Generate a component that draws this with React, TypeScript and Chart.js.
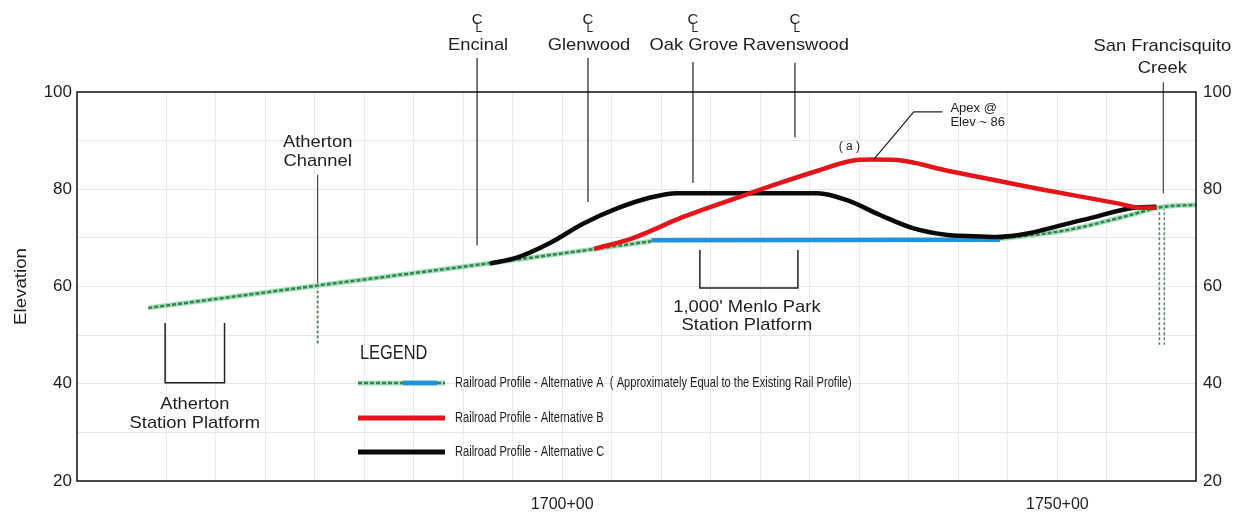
import { useEffect, useRef } from 'react';
import { Chart, registerables } from 'chart.js';

Chart.register(...registerables);

// ---------- axis ----------
const stationMin = 1651;
const stationMax = 1764;
const elevationMin = 20;
const elevationMax = 100;
const stationLabelValues = [1700, 1750];
const stationLabelTexts = ['1700+00', '1750+00'];
const elevationLabelValues = [20, 40, 60, 80, 100];

// ---------- profiles (station in 100 ft, elevation in ft) ----------
const existingX = [1658.2, 1675.3, 1692.7, 1709.0, 1726.0, 1744.2, 1751.0, 1757.0, 1760.4, 1764.0];
const existingY = [55.6, 60.2, 64.8, 69.3, null, 69.8, 71.6, 74.5, 76.3, 76.8];

const altAX = [1709.0, 1744.2];
const altAY = [69.5, 69.6];

const altBX = [1703.2, 1707.2, 1712.2, 1719.0, 1722.0, 1725.8, 1729.1, 1731.3, 1733.8, 1738.9, 1748.3, 1756.1, 1758.3, 1760.0];
const altBY = [67.7, 70.0, 74.3, 79.2, 81.3, 83.8, 85.8, 86.1, 86.0, 83.8, 80.0, 77.1, 76.2, 76.2];

const altCX = [1692.7, 1695.5, 1698.8, 1702.1, 1705.6, 1708.9, 1711.6, 1725.8, 1728.7, 1732.1, 1735.4, 1738.9, 1740.9, 1743.9, 1752.6, 1757.7, 1760.0];
const altCY = [64.7, 66.0, 69.0, 72.9, 76.1, 78.3, 79.2, 79.2, 77.8, 74.7, 72.0, 70.6, 70.4, 70.2, 73.7, 76.2, 76.4];

// ---------- centerlines of crossings ----------
const clNames = ['Encinal', 'Glenwood', 'Oak Grove', 'Ravenswood'];
const clStations = [1691.4, 1702.6, 1713.2, 1723.5];
const clTop = [107.0, 107.0, 106.2, 106.0];
const clBottom = [68.5, 77.4, 81.3, 90.7];

const channelStation = 1675.3;
const channelTop = 83.0;
const channelBottom = 60.2;
const channelDrainBottom = 48.0;

const creekStation = 1760.7;
const creekTop = 102.0;
const creekBottom = 79.2;
const creekDrainStations = [1760.3, 1760.8];
const creekDrainTop = 76.3;
const creekDrainBottom = 48.0;

// ---------- station platforms ----------
const athertonPlatformX = [1659.9, 1665.9];
const athertonPlatformY = [52.5, 40.2];
const menloPlatformX = [1713.9, 1723.8];
const menloPlatformY = [67.5, 59.7];

// ---------- apex leader ----------
const apexLeaderX = [1731.4, 1735.5, 1738.4];
const apexLeaderY = [86.0, 95.9, 95.9];

// ---------- legend ----------
const legendTitle = 'LEGEND';
const legendTexts = [
  'Railroad Profile - Alternative A  ( Approximately Equal to the Existing Rail Profile)',
  'Railroad Profile - Alternative B',
  'Railroad Profile - Alternative C',
];

const GREEN_BASE = '#9fe2b4';
const GREEN_DASH = '#3f7c55';
const BLUE = '#1f93e0';
const RED = '#e5141b';
const BLACK = '#0a0a0a';
const TEXT = '#1e1e1e';
const FONT = "'Liberation Sans', Arial, sans-serif";

const pts = (xs: number[], ys: (number | null)[]) => xs.map((x, i) => ({ x, y: ys[i] }));

function drawText(
  ctx: CanvasRenderingContext2D,
  s: string,
  x: number,
  y: number,
  size: number,
  align: CanvasTextAlign = 'center',
  sx = 1.08,
) {
  ctx.save();
  ctx.font = `${size}px ${FONT}`;
  ctx.fillStyle = TEXT;
  ctx.textBaseline = 'middle';
  ctx.textAlign = align;
  ctx.translate(x, y);
  ctx.scale(sx, 1);
  ctx.fillText(s, 0, 0);
  ctx.restore();
}

const annotationPlugin = {
  id: 'profileAnnotations',
  afterDatasetsDraw(chart: any) {
    const ctx: CanvasRenderingContext2D = chart.ctx;
    const xs = chart.scales.x;
    const ys = chart.scales.y;
    const px = (v: number) => xs.getPixelForValue(v);
    const py = (v: number) => ys.getPixelForValue(v);
    const area = chart.chartArea;

    // frame
    ctx.save();
    ctx.strokeStyle = '#111';
    ctx.lineWidth = 1.5;
    ctx.strokeRect(area.left, area.top, area.right - area.left, area.bottom - area.top);
    ctx.restore();

    // centerline symbols + names
    clNames.forEach((n, i) => {
      const x = px(clStations[i]);
      drawText(ctx, 'C', x, py(114.9), 15, 'center', 1);
      drawText(ctx, 'L', x - 1.5, py(113.1), 12, 'left', 1);
      drawText(ctx, n, x + 1, py(109.5), 17);
    });

    drawText(ctx, 'San Francisquito', px(creekStation) - 1, py(109.3), 17);
    drawText(ctx, 'Creek', px(creekStation) - 1, py(104.9), 17);

    drawText(ctx, 'Atherton', px(channelStation), py(89.7), 17);
    drawText(ctx, 'Channel', px(channelStation), py(85.8), 17);

    const athC = (athertonPlatformX[0] + athertonPlatformX[1]) / 2;
    drawText(ctx, 'Atherton', px(athC), py(35.8), 17);
    drawText(ctx, 'Station Platform', px(athC), py(31.9), 17);

    const menC = (menloPlatformX[0] + menloPlatformX[1]) / 2 - 0.2;
    drawText(ctx, "1,000' Menlo Park", px(menC), py(55.8), 17);
    drawText(ctx, 'Station Platform', px(menC), py(52.1), 17);

    drawText(ctx, 'Apex @', px(1739.2), py(96.7), 13, 'left', 1);
    drawText(ctx, 'Elev ~ 86', px(1739.2), py(93.8), 13, 'left', 1);
    drawText(ctx, '( a )', px(1729.0), py(88.7), 12, 'center', 1);

    // elevation axis title
    ctx.save();
    ctx.translate(21, (area.top + area.bottom) / 2);
    ctx.rotate(-Math.PI / 2);
    ctx.font = `17px ${FONT}`;
    ctx.fillStyle = TEXT;
    ctx.textAlign = 'center';
    ctx.textBaseline = 'middle';
    ctx.scale(1.1, 1);
    ctx.fillText('Elevation', 0, 0);
    ctx.restore();

    // legend
    const lx0 = 358;
    const lx1 = 445;
    drawText(ctx, legendTitle, 360, 353, 20, 'left', 0.82);
    const rowY = [383, 418, 452];
    ctx.save();
    ctx.lineCap = 'butt';
    ctx.lineWidth = 5;
    ctx.strokeStyle = GREEN_BASE;
    ctx.beginPath();
    ctx.moveTo(lx0, rowY[0]);
    ctx.lineTo(lx1, rowY[0]);
    ctx.stroke();
    ctx.lineWidth = 2.5;
    ctx.strokeStyle = GREEN_DASH;
    ctx.setLineDash([4, 2]);
    ctx.beginPath();
    ctx.moveTo(lx0, rowY[0]);
    ctx.lineTo(403, rowY[0]);
    ctx.moveTo(437, rowY[0]);
    ctx.lineTo(lx1, rowY[0]);
    ctx.stroke();
    ctx.setLineDash([]);
    ctx.lineWidth = 4.5;
    ctx.strokeStyle = BLUE;
    ctx.beginPath();
    ctx.moveTo(403, rowY[0]);
    ctx.lineTo(437, rowY[0]);
    ctx.stroke();
    [RED, BLACK].forEach((c, i) => {
      ctx.lineWidth = 5;
      ctx.strokeStyle = c;
      ctx.beginPath();
      ctx.moveTo(lx0, rowY[i + 1]);
      ctx.lineTo(lx1, rowY[i + 1]);
      ctx.stroke();
    });
    ctx.restore();
    legendTexts.forEach((t, i) => drawText(ctx, t, 455, rowY[i], 15, 'left', 0.74));
  },
};

export default function App() {
  const ref = useRef<HTMLCanvasElement | null>(null);

  useEffect(() => {
    document.body.style.margin = '0';
    if (!ref.current) return;

    const thin = (data: any[], color: string, width = 1.2, dash: number[] = []) => ({
      data,
      borderColor: color,
      borderWidth: width,
      borderDash: dash,
      pointRadius: 0,
      tension: 0,
      clip: false as const,
      order: 6,
    });

    const datasets: any[] = [
      {
        data: pts(altBX, altBY),
        borderColor: RED,
        borderWidth: 4.5,
        pointRadius: 0,
        cubicInterpolationMode: 'monotone',
        order: 1,
      },
      {
        data: pts(altCX, altCY),
        borderColor: BLACK,
        borderWidth: 4.5,
        pointRadius: 0,
        cubicInterpolationMode: 'monotone',
        order: 2,
      },
      {
        data: pts(altAX, altAY),
        borderColor: BLUE,
        borderWidth: 4.5,
        pointRadius: 0,
        order: 3,
      },
      {
        data: pts(existingX, existingY),
        borderColor: GREEN_DASH,
        borderWidth: 2.5,
        borderDash: [4, 2],
        pointRadius: 0,
        spanGaps: false,
        cubicInterpolationMode: 'monotone',
        order: 4,
      },
      {
        data: pts(existingX, existingY),
        borderColor: GREEN_BASE,
        borderWidth: 5,
        pointRadius: 0,
        spanGaps: false,
        cubicInterpolationMode: 'monotone',
        order: 5,
      },
    ];

    clStations.forEach((s, i) => {
      datasets.push(thin(pts([s, s], [clTop[i], clBottom[i]]), '#222'));
    });
    datasets.push(thin(pts([channelStation, channelStation], [channelTop, channelBottom]), '#444'));
    datasets.push(thin(pts([channelStation, channelStation], [channelBottom, channelDrainBottom]), '#5d8a6b', 2, [3, 2]));
    datasets.push(thin(pts([creekStation, creekStation], [creekTop, creekBottom]), '#444'));
    creekDrainStations.forEach((s) => {
      datasets.push(thin(pts([s, s], [creekDrainTop, creekDrainBottom]), '#5d8a6b', 1.6, [3, 2]));
    });
    datasets.push(
      thin(
        pts(
          [athertonPlatformX[0], athertonPlatformX[0], athertonPlatformX[1], athertonPlatformX[1]],
          [athertonPlatformY[0], athertonPlatformY[1], athertonPlatformY[1], athertonPlatformY[0]],
        ),
        '#222',
        1.5,
      ),
    );
    datasets.push(
      thin(
        pts(
          [menloPlatformX[0], menloPlatformX[0], menloPlatformX[1], menloPlatformX[1]],
          [menloPlatformY[0], menloPlatformY[1], menloPlatformY[1], menloPlatformY[0]],
        ),
        '#222',
        1.5,
      ),
    );
    datasets.push({ ...thin(pts(apexLeaderX, apexLeaderY), '#222', 1.3), order: 0 });

    const chart = new Chart(ref.current, {
      type: 'line',
      data: { datasets },
      plugins: [annotationPlugin],
      options: {
        responsive: false,
        animation: false,
        devicePixelRatio: 1,
        layout: { padding: { top: 92, left: 0, right: 0, bottom: 0 } },
        plugins: { legend: { display: false }, tooltip: { enabled: false } },
        scales: {
          x: {
            type: 'linear',
            min: stationMin,
            max: stationMax,
            position: 'bottom',
            border: { display: false },
            grid: { color: '#ebebeb', drawTicks: false, lineWidth: 1 },
            ticks: {
              stepSize: 5,
              autoSkip: false,
              maxRotation: 0,
              padding: 14,
              color: TEXT,
              font: { size: 16, family: FONT },
              callback: (v: any) => {
                const i = stationLabelValues.indexOf(Number(v));
                return i >= 0 ? stationLabelTexts[i] : '';
              },
            },
            afterFit: (s: any) => {
              s.height = 35;
            },
          },
          y: {
            type: 'linear',
            min: elevationMin,
            max: elevationMax,
            position: 'left',
            border: { display: false },
            grid: { color: '#e6e6e6', drawTicks: false },
            ticks: {
              stepSize: 10,
              padding: 5,
              color: TEXT,
              font: { size: 17, family: FONT },
              callback: (v: any) => (elevationLabelValues.includes(Number(v)) ? String(v) : ''),
            },
            afterFit: (s: any) => {
              s.width = 77;
            },
          },
          y2: {
            type: 'linear',
            min: elevationMin,
            max: elevationMax,
            position: 'right',
            border: { display: false },
            grid: { display: false, drawTicks: false },
            ticks: {
              stepSize: 10,
              padding: 7,
              color: TEXT,
              font: { size: 17, family: FONT },
              callback: (v: any) => (elevationLabelValues.includes(Number(v)) ? String(v) : ''),
            },
            afterFit: (s: any) => {
              s.width = 46;
            },
          },
        },
      },
    });
    return () => chart.destroy();
  }, []);

  return (
    <div style={{ width: 1242, height: 516, background: '#fff' }}>
      <canvas ref={ref} width={1242} height={516} style={{ display: 'block' }} />
    </div>
  );
}
